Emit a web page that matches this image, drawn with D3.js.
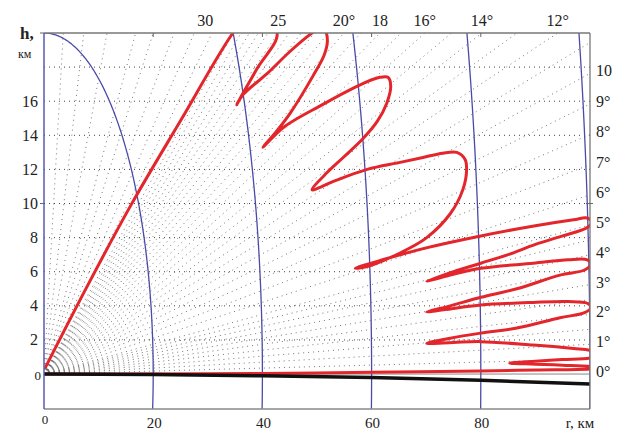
<!DOCTYPE html>
<html>
<head>
<meta charset="utf-8">
<script src="https://cdn.jsdelivr.net/npm/d3@7/dist/d3.min.js"></script>
<style>
body { margin: 0; background: #fff; }
text { font-family: "Liberation Serif", "DejaVu Serif", serif; fill: #222; }
</style>
</head>
<body>
<svg id="chart" width="628" height="430"></svg>
<script>
// axis ticks and labels
var left_ticks = [2, 4, 6, 8, 10, 12, 14, 16];
var bottom_ticks = [20, 40, 60, 80];
var top_angles = [30, 25, 20, 18, 16, 14, 12];
var top_labels = ["30", "25", "20°", "18", "16°", "14°", "12°"];
var right_angles = [10, 9, 8, 7, 6, 5, 4, 3, 2, 1, 0];
var right_labels = ["10", "9°", "8°", "7°", "6°", "5°", "4°", "3°", "2°", "1°", "0°"];

// slant range circles, km
var range_circles = [20, 40, 60, 80, 100];
// dotted grid
var grid_heights = [2, 4, 6, 8, 10, 12, 14, 16, 18];
var ray_angles = [0.5, 1, 1.5, 2, 2.5, 3, 3.5, 4, 4.5, 5, 6, 7, 8, 9,
  10, 11, 12, 13, 14, 15, 16, 17, 18, 19, 20, 21, 22, 23, 24, 25, 26, 27, 28, 29, 30,
  33, 36, 40, 45, 50, 60, 70, 80];

// earth surface (range km, height km)
var ground = [[0, 0], [20, -0.03], [40, -0.1], [60, -0.21], [80, -0.37], [100, -0.58]];

// coverage lobes (range km, height km)
var lobes = [[0.2, 0.35], [8, 5.2], [16, 9.95], [25, 14.85], [34.6, 20], [38.5, 21.5], [42.7, 20],
  [39, 17.9], [35.3, 15.8], [36.5, 16.4], [40.8, 17.6], [45, 18.9], [48.9, 19.95], [50.5, 20.25],
  [51.6, 20.05], [51.9, 19.5], [51.3, 18.7], [49.3, 17.5], [45.1, 15.3], [42.5, 14.2], [40.1, 13.3],
  [44, 14.5], [51, 15.8], [57.5, 16.9], [61.5, 17.4], [63, 17.4], [63.5, 16.9], [62.8, 15.9],
  [61, 14.8], [58.4, 13.8], [54.8, 12.7], [51.8, 11.8], [49.1, 10.8], [53, 11.3], [59.2, 12],
  [65, 12.4], [69.4, 12.7], [73, 12.95], [75.6, 13], [77.1, 12.6], [77.4, 12], [76.7, 10.8],
  [74.4, 9.4], [70.1, 8], [65.2, 7.1], [59.2, 6.3], [57, 6.2], [62, 6.7], [70, 7.4], [80, 8.1],
  [90, 8.7], [97, 9.05], [99.5, 9.15], [100.3, 8.9], [99.5, 8.6], [95, 8.1], [90, 7.6], [85, 7],
  [80, 6.5], [75, 6], [70.1, 5.45], [75, 5.85], [80, 6.2], [89.6, 6.5], [96, 6.7], [99.5, 6.7],
  [100.2, 6.45], [99, 6.1], [94.5, 5.8], [86.6, 5], [80, 4.5], [74.4, 4], [70.1, 3.64], [75, 3.85],
  [80, 4.05], [89.6, 4.2], [96, 4.25], [99.5, 4.15], [100.2, 3.9], [99, 3.6], [94.5, 3.3],
  [86.6, 2.7], [80, 2.4], [74.4, 2.1], [70.1, 1.8], [75, 1.85], [80, 1.9], [89.6, 1.7], [97, 1.5],
  [100, 1.4], [102, 1.2], [100, 0.95], [95, 0.85], [90, 0.75], [85.3, 0.64], [90, 0.58],
  [95, 0.52], [100, 0.45], [102, 0.38], [100, 0.3], [90, 0.24], [80, 0.18], [60, 0.1],
  [45, 0.05], [30, 0.02], [0, 0]];

var svg = d3.select("#chart");
var x = d3.scaleLinear().domain([0, 100]).range([44, 590]);
var y = d3.scaleLinear().domain([-2.05, 20]).range([409, 33]);
var rad = Math.PI / 180;

svg.append("clipPath").attr("id", "plot_clip").append("rect")
  .attr("x", x(0)).attr("y", y(20)).attr("width", x(100) - x(0)).attr("height", y(-2.05) - y(20));
svg.append("clipPath").attr("id", "grid_clip").append("rect")
  .attr("x", x(0)).attr("y", y(20)).attr("width", x(100) - x(0)).attr("height", y(0) - y(20));

var grid = svg.append("g").attr("clip-path", "url(#grid_clip)")
  .style("stroke", "#666").style("stroke-width", 1).style("stroke-dasharray", "1,4");

grid.selectAll(".hgrid").data(grid_heights).enter().append("line")
  .attr("class", "hgrid")
  .attr("x1", x(0)).attr("x2", x(100))
  .attr("y1", function(d) { return y(d); }).attr("y2", function(d) { return y(d); })
  .style("stroke", "#444");

// rays from the radar, dots start at the origin
grid.selectAll(".ray").data(ray_angles).enter().append("line")
  .attr("class", "ray")
  .attr("x1", x(0)).attr("y1", y(0))
  .attr("x2", function(d) { return x(150 * Math.cos(d * rad)); })
  .attr("y2", function(d) { return y(150 * Math.sin(d * rad)); })
  .style("stroke-width", 0.9);

// thin zero line
svg.append("line").attr("x1", x(0)).attr("x2", x(100)).attr("y1", y(0)).attr("y2", y(0))
  .style("stroke", "#888").style("stroke-width", 1);

var plot = svg.append("g").attr("clip-path", "url(#plot_clip)");

var arc_line = d3.line().x(function(d) { return x(d[0]); }).y(function(d) { return y(d[1]); });

plot.selectAll(".arc").data(range_circles).enter().append("path")
  .attr("class", "arc")
  .attr("d", function(R) {
    var pts = d3.range(-10, 90.5, 0.5).map(function(a) { return [R * Math.cos(a * rad), R * Math.sin(a * rad)]; });
    return arc_line(pts);
  })
  .style("fill", "none").style("stroke", "#4a4aa8").style("stroke-width", 1.3);

plot.append("path").datum(lobes)
  .attr("d", arc_line.curve(d3.curveCatmullRom.alpha(0.5)))
  .style("fill", "none").style("stroke", "#e3262b").style("stroke-width", 3)
  .style("stroke-linejoin", "round");

plot.append("path").datum(ground)
  .attr("d", d3.line().x(function(d) { return x(d[0]); }).y(function(d) { return y(d[1]); }))
  .style("fill", "none").style("stroke", "#111").style("stroke-width", 3.5);

// frame
svg.append("line").attr("x1", x(0)).attr("x2", x(100)).attr("y1", y(20)).attr("y2", y(20))
  .style("stroke", "#777").style("stroke-width", 1.3);
svg.append("line").attr("x1", x(0)).attr("x2", x(100)).attr("y1", y(-2.05)).attr("y2", y(-2.05))
  .style("stroke", "#888").style("stroke-width", 1.3);
svg.append("line").attr("x1", x(100)).attr("x2", x(100)).attr("y1", y(20)).attr("y2", y(-2.05))
  .style("stroke", "#777").style("stroke-width", 1.3);
svg.append("line").attr("x1", x(0)).attr("x2", x(0)).attr("y1", y(20)).attr("y2", y(-2.05))
  .style("stroke", "#5a5ab0").style("stroke-width", 1.5);

// small tick marks
svg.selectAll(".ttick").data(bottom_ticks).enter().append("line")
  .attr("x1", function(d) { return x(d); }).attr("x2", function(d) { return x(d); })
  .attr("y1", y(20)).attr("y2", y(20) + 4).style("stroke", "#666");
svg.append("line").attr("x1", x(0) - 4).attr("x2", x(0)).attr("y1", y(10)).attr("y2", y(10)).style("stroke", "#666");
svg.append("line").attr("x1", x(0) - 4).attr("x2", x(0)).attr("y1", y(20)).attr("y2", y(20)).style("stroke", "#666");
svg.append("line").attr("x1", x(100) - 4).attr("x2", x(100) + 3).attr("y1", y(10)).attr("y2", y(10)).style("stroke", "#666");

// labels
svg.selectAll(".ylab").data(left_ticks).enter().append("text")
  .attr("x", 38).attr("y", function(d) { return y(d) + 5.5; })
  .attr("text-anchor", "end").style("font-size", "16px")
  .text(function(d) { return d; });
svg.append("text").attr("x", 41).attr("y", y(0) + 6).attr("text-anchor", "end")
  .style("font-size", "13px").text("0");
svg.append("text").attr("x", 20).attr("y", 39).style("font-size", "17px").style("font-weight", "bold").text("h,");
svg.append("text").attr("x", 18).attr("y", 58).style("font-size", "12px").text("км");

svg.selectAll(".xlab").data(bottom_ticks).enter().append("text")
  .attr("x", function(d) { return x(d) + 1; }).attr("y", 428)
  .attr("text-anchor", "middle").style("font-size", "15px")
  .text(function(d) { return d; });
svg.append("text").attr("x", x(0) + 1).attr("y", 424).attr("text-anchor", "middle")
  .style("font-size", "13px").text("0");
svg.append("text").attr("x", 580).attr("y", 428).attr("text-anchor", "middle")
  .style("font-size", "15px").text("r, км");

svg.selectAll(".toplab").data(top_angles).enter().append("text")
  .attr("x", function(d) { return x(20 / Math.tan(d * rad)) + (d === 30 ? -28 : 0); })
  .attr("y", 26).attr("text-anchor", "middle").style("font-size", "16px")
  .text(function(d, i) { return top_labels[i]; });

svg.selectAll(".rlab").data(right_angles).enter().append("text")
  .attr("x", 596).attr("y", function(d) { return y(100 * Math.tan(d * rad)) + 3; })
  .style("font-size", "16px")
  .text(function(d, i) { return right_labels[i]; });
</script>
</body>
</html>
